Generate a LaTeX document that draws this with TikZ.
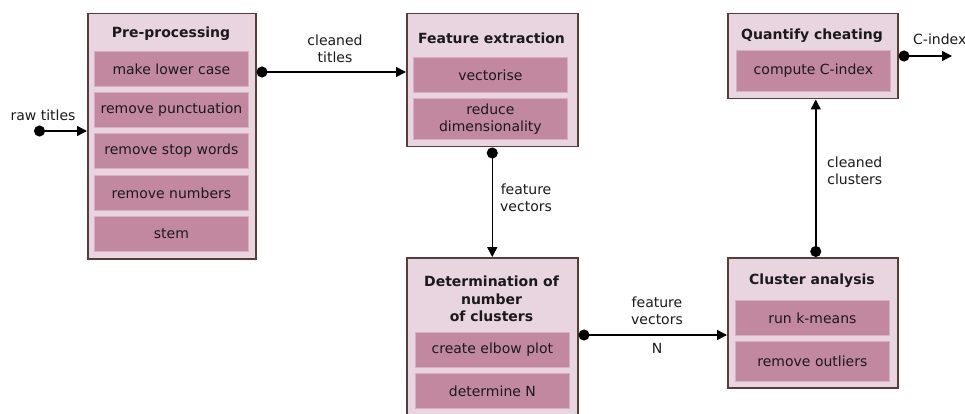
\documentclass[tikz,border=0pt]{standalone}
\usepackage{fontspec}
\setmainfont{DejaVu Sans}
\usetikzlibrary{arrows.meta}
\definecolor{boxfill}{HTML}{E9D5DF}
\definecolor{taskfill}{HTML}{C2889F}
\definecolor{taskedge}{HTML}{D8AFC0}
\definecolor{boxline}{HTML}{5A3C3C}
\definecolor{ink}{HTML}{1A1A1A}
\begin{document}
\begin{tikzpicture}[x=1pt,y=-1pt,
  font=\fontsize{14}{17.5}\selectfont, text=ink,
  stage/.style={draw=boxline, fill=boxfill, line width=1.5pt, anchor=north west, inner sep=0pt},
  task/.style={fill=taskfill, draw=taskedge, line width=0.8pt, anchor=north west, inner sep=0pt,
               minimum width=154pt, align=center},
  heading/.style={font=\fontsize{14}{17.5}\selectfont\bfseries, align=center, inner sep=0pt},
  lbl/.style={align=center, inner sep=0pt},
  link/.style={line width=1.5pt, draw=black,
               {Circle[length=11pt]}-{Triangle[length=10pt,width=10pt]}}]
\useasboundingbox (0,0) rectangle (965,414);
\clip (0,0) rectangle (965,414);

% stages
\node[stage, minimum width=168pt, minimum height=245pt] (pp)  at (87,13) {};
\node[stage, minimum width=171pt, minimum height=133pt] (fe)  at (406,13) {};
\node[stage, minimum width=170pt, minimum height=85pt]  (qc)  at (727,13) {};
\node[stage, minimum width=171pt, minimum height=170pt] (det) at (406,257) {};
\node[stage, minimum width=170pt, minimum height=130pt] (ca)  at (727,257) {};

% stage headings
\node[heading] (pph)  at (171,34)    {Pre-processing};
\node[heading] (feh)  at (491.5,38)  {Feature extraction};
\node[heading] (qch)  at (812,36)    {Quantify cheating};
\node[heading] (deth) at (491.5,299) {Determination of\\number\\of clusters};
\node[heading] (cah)  at (812,281)   {Cluster analysis};

% tasks inside the stages
\node[task, minimum height=35pt] (pp1) at (94,51)  {make lower case};
\node[task, minimum height=35pt] (pp2) at (94,92)  {remove punctuation};
\node[task, minimum height=35pt] (pp3) at (94,133) {remove stop words};
\node[task, minimum height=35pt] (pp4) at (94,175) {remove numbers};
\node[task, minimum height=35pt] (pp5) at (94,216) {stem};

\node[task, minimum height=35pt] (fe1) at (413,57) {vectorise};
\node[task, minimum height=41pt] (fe2) at (413,98) {reduce\\dimensionality};

\node[task, minimum height=41pt] (qc1) at (736,50) {compute C-index};

\node[task, minimum height=35pt] (det1) at (415,332) {create elbow plot};
\node[task, minimum height=35pt] (det2) at (415,373) {determine N};

\node[task, minimum height=35pt] (ca1) at (735,300) {run k-means};
\node[task, minimum height=40pt] (ca2) at (735,341) {remove outliers};

% connector levels and free ends
\coordinate (rawin) at (34,131);
\coordinate (ctlevel) at (0,72);
\coordinate (fvlevel) at (0,335);
\coordinate (cilevel) at (0,56);
\coordinate (cout) at (952,56);

% connectors
\draw[link] (rawin) -- (pp.west |- rawin);
\draw[link] (pp.east |- ctlevel) -- (fe.west |- ctlevel);
\draw[link] (fe.south) -- (det.north);
\draw[link] (det.east |- fvlevel) -- (ca.west |- fvlevel);
\draw[link] ([xshift=3pt]ca.north) -- ([xshift=3pt]qc.south);
\draw[link] (qc.east |- cilevel) -- (cout);

% connector labels
\node[lbl] (lraw) at (43,115) {raw titles};
\node[lbl] (lct)  at (335,49) {cleaned\\titles};
\node[lbl, anchor=west] (lfv1) at (500,198) {feature\\vectors};
\node[lbl] (lfv2) at (657,311) {feature\\vectors};
\node[lbl] (ln)   at (657,348) {N};
\node[lbl, anchor=west] (lcc) at (827,171) {cleaned\\clusters};
\node[lbl, anchor=west] (lci) at (913,39) {C-index};
\end{tikzpicture}
\end{document}
